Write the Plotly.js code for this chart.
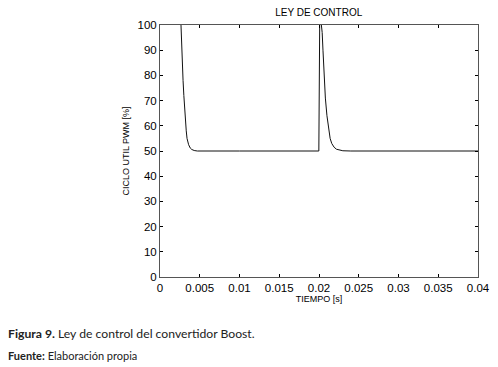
<!DOCTYPE html>
<html><head><meta charset="utf-8">
<script src="https://cdn.plot.ly/plotly-3.0.1.min.js"></script>
<style>
html,body{margin:0;padding:0;background:#fff;}
#wrap{position:relative;width:498px;height:367px;overflow:hidden;}
#chart{position:absolute;left:0;top:0;width:498px;height:367px;}
.cap{position:absolute;left:8px;font-family:Lato,"Open Sans",sans-serif;color:#222;white-space:nowrap;}
</style></head>
<body>
<div id="wrap">
<div id="chart"></div>
<div class="cap" style="top:326px;font-size:12.2px;"><b>Figura 9.</b> Ley de control del convertidor Boost.</div>
<div class="cap" style="top:349px;font-size:11px;"><b>Fuente:</b> Elaboración propia</div>
</div>
<script>
var tiempo = [0, 0.0025, 0.00264, 0.0027, 0.0028, 0.0029, 0.003, 0.0031, 0.0032, 0.0033, 0.0034, 0.0035, 0.0036, 0.0038, 0.004, 0.0043, 0.0047, 0.01, 0.015, 0.01998,
              0.0201, 0.0203, 0.0204, 0.0205, 0.0206, 0.0207, 0.0208, 0.021, 0.0212, 0.0214, 0.0216, 0.0219, 0.0222, 0.0226, 0.023, 0.024, 0.03, 0.04];
var ciclo = [150, 130, 100, 92, 85, 78, 72, 66, 62, 58, 55, 53.5, 52.5, 51.2, 50.6, 50.2, 50, 50, 50, 50,
             106, 101, 97, 90, 83, 76, 71, 64, 58.5, 55, 53, 51.5, 50.7, 50.3, 50.1, 50, 50, 50];
var xTicks = [0, 0.005, 0.01, 0.015, 0.02, 0.025, 0.03, 0.035, 0.04];
var xTickText = ["0", "0.005", "0.01", "0.015", "0.02", "0.025", "0.03", "0.035", "0.04"];
var yTicks = [0, 10, 20, 30, 40, 50, 60, 70, 80, 90, 100];

var trace = {x: tiempo, y: ciclo, type: 'scatter', mode: 'lines',
  line: {color: '#111', width: 1}, hoverinfo: 'none'};
var font = {family: 'Liberation Sans, Arial, sans-serif', color: '#000'};
var layout = {
  width: 498, height: 367,
  margin: {l: 160, r: 20, t: 25, b: 90},
  paper_bgcolor: 'rgba(0,0,0,0)', plot_bgcolor: '#fff',
  showlegend: false,
  title: {text: 'LEY DE CONTROL', font: Object.assign({size: 10}, font), x: 0.64, xanchor: 'center', y: 0.975, yanchor: 'top'},
  xaxis: {range: [0, 0.04], tickvals: xTicks, ticktext: xTickText, ticks: 'inside', ticklen: 3, tickcolor: '#000',
    showline: true, linecolor: '#555', linewidth: 1, mirror: 'ticks', showgrid: false, zeroline: false,
    tickfont: Object.assign({size: 11.5}, font),
    title: {text: 'TIEMPO [s]', font: Object.assign({size: 9}, font), standoff: 2}},
  yaxis: {range: [0, 100], tickvals: yTicks, ticks: 'inside', ticklen: 3, tickcolor: '#000',
    showline: true, linecolor: '#555', linewidth: 1, mirror: 'ticks', showgrid: false, zeroline: false,
    tickfont: Object.assign({size: 11.5}, font),
    title: {text: 'CICLO UTIL PWM [%]', font: Object.assign({size: 9}, font), standoff: 6}}
};
Plotly.newPlot('chart', [trace], layout, {staticPlot: true, displayModeBar: false});
</script>
</body></html>
